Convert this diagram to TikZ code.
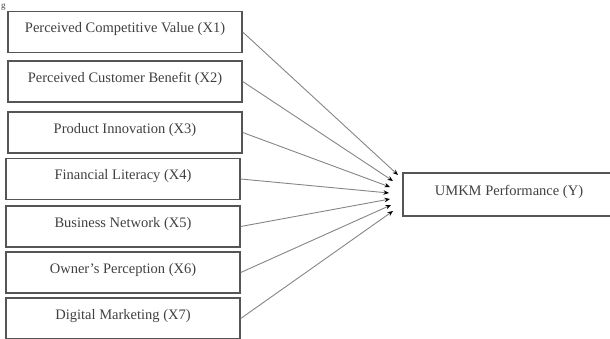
\documentclass[tikz,border=0pt]{standalone}
\usepackage{fontspec}
\setmainfont{Liberation Serif}
\usetikzlibrary{arrows.meta}
\definecolor{boxgray}{HTML}{555555}
\definecolor{textgray}{HTML}{404040}
\definecolor{linegray}{HTML}{858585}
\begin{document}
\begin{tikzpicture}[x=1pt,y=-1pt,
    varbox/.style={draw=boxgray, line width=1.4pt, minimum width=234pt, minimum height=41pt,
      inner sep=0pt, text=textgray, font=\fontsize{14.5}{16}\selectfont, text height=10pt, text depth=9pt},
    link/.style={draw=linegray, line width=0.9pt, -{Stealth[black,length=5.5pt,width=4.5pt]}}]
\useasboundingbox (0,0) rectangle (610,338);

\node[text=textgray, font=\fontsize{9}{10}\selectfont, inner sep=0pt, anchor=base west] (fig) at (1,8.5) {g};

\node[varbox] (x1) at (125,32) {Perceived Competitive Value (X1)};
\node[varbox] (x2) at (125,81.5) {Perceived Customer Benefit (X2)};
\node[varbox] (x3) at (125,132.5) {Product Innovation (X3)};
\node[varbox] (x4) at (123,179) {Financial Literacy (X4)};
\node[varbox] (x5) at (123,226.5) {Business Network (X5)};
\node[varbox] (x6) at (123,272.5) {Owner's Perception (X6)};
\node[varbox] (x7) at (123,318.5) {Digital Marketing (X7)};

\node[varbox, minimum width=212pt, minimum height=43pt] (y) at (509,194.5) {UMKM Performance (Y)};

\coordinate (e1) at (398,175);
\coordinate (e2) at (393,181);
\coordinate (e3) at (390,187);
\coordinate (e4) at (389,193);
\coordinate (e5) at (390,199);
\coordinate (e6) at (391,205);
\coordinate (e7) at (393,211);

\draw[link] (x1.east) -- (e1);
\draw[link] (x2.east) -- (e2);
\draw[link] (x3.east) -- (e3);
\draw[link] (x4.east) -- (e4);
\draw[link] (x5.east) -- (e5);
\draw[link] (x6.east) -- (e6);
\draw[link] (x7.east) -- (e7);
\end{tikzpicture}
\end{document}
